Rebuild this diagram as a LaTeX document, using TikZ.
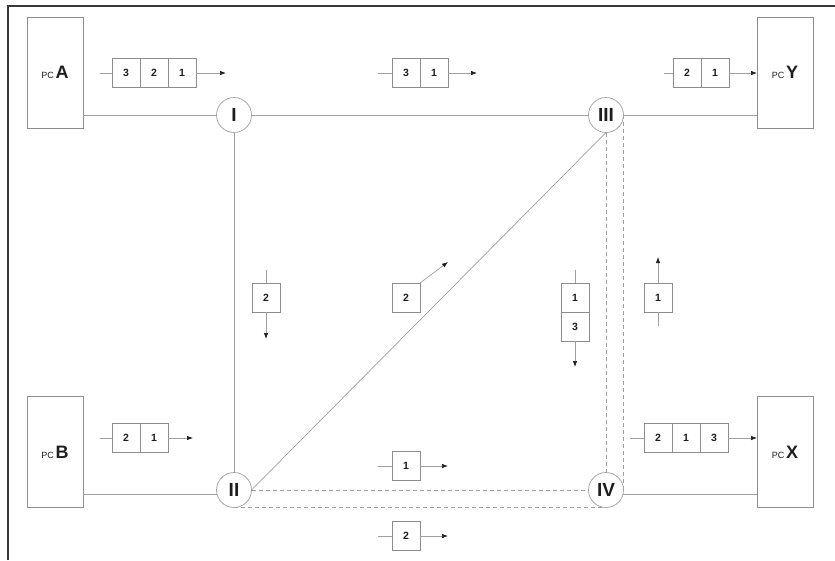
\documentclass[tikz,border=0pt]{standalone}
\usepackage{fontspec}
\setmainfont{Liberation Sans}
\usetikzlibrary{arrows.meta}
\definecolor{boxgray}{HTML}{8C8C8C}
\definecolor{linegray}{HTML}{A0A0A0}
\definecolor{txt}{HTML}{1E1E1E}
\definecolor{framec}{HTML}{383838}
\newcommand\pclabel[1]{{\fontsize{9}{9}\selectfont PC}\,{\fontsize{18}{18}\selectfont\bfseries #1}}
\tikzset{
  cell/.style={draw=boxgray, line width=0.7pt, minimum width=28pt, minimum height=29pt,
    inner sep=0pt, outer sep=0pt, text=txt, font=\fontsize{10.5}{10.5}\selectfont\bfseries},
  pcbox/.style={draw=boxgray, line width=0.7pt, minimum width=56pt, minimum height=111pt,
    inner sep=0pt, outer sep=0pt, text=txt},
  router/.style={circle, draw=linegray, line width=0.7pt, minimum size=35pt, inner sep=0pt,
    outer sep=0pt, text=txt, font=\fontsize{19}{19}\selectfont\bfseries},
  link/.style={draw=linegray, line width=0.7pt},
  dlink/.style={draw=linegray, line width=0.7pt, dash pattern=on 4pt off 3pt},
  pkt/.style={draw=linegray, line width=0.7pt, -{Latex[length=6pt,width=4.5pt,color=txt]}},
  framel/.style={draw=framec, line width=1.3pt}
}
\begin{document}
\begin{tikzpicture}[x=1pt,y=-1pt]
\useasboundingbox (0,0) rectangle (835,560);
% frame
\coordinate (fr1) at (8,560);
\coordinate (fr2) at (8,6);
\coordinate (fr3) at (835,6);
\draw[framel] (fr1) -- (fr2) -- (fr3);

% PCs
\node[pcbox] (pcA) at (55,72.5) {\pclabel{A}};
\node[pcbox] (pcY) at (785,72.5) {\pclabel{Y}};
\node[pcbox] (pcB) at (55,452) {\pclabel{B}};
\node[pcbox] (pcX) at (785,452) {\pclabel{X}};

% routers
\node[router] (rI) at (234,115) {I};
\node[router] (rIII) at (606,115) {III};
\node[router] (rII) at (234,490) {II};
\node[router] (rIV) at (606,490) {IV};

% solid links
\draw[link] (pcA.east |- rI) -- (rI);
\draw[link] (rI) -- (rIII);
\draw[link] (rIII) -- (rIII -| pcY.west);
\draw[link] (rI) -- (rII);
\draw[link] (rII.east) -- (rIII.south);
\draw[link] (pcB.east |- rII.193) -- (rII.193);
\draw[link] (rIV.-13) -- (rIV.-13 -| pcX.west);

% dashed links
\draw[dlink] (rII) -- (rIV);
\draw[dlink] (rII.south) -- (rIV.south);
\draw[dlink] (rIII) -- (rIV);
\draw[dlink] (rIII.east) -- (rIV.east);

% packet A -> 3 2 1
\node[cell] (a3) at (126,73) {3};
\node[cell] (a2) at (154,73) {2};
\node[cell] (a1) at (182,73) {1};
\coordinate (aT) at (100,73);
\coordinate (aH) at (226,73);
\draw[link] (aT) -- (a3);
\draw[pkt] (a1) -- (aH);

% packet top middle 3 1
\node[cell] (m3) at (406,73) {3};
\node[cell] (m1) at (434,73) {1};
\coordinate (mT) at (378,73);
\coordinate (mH) at (477,73);
\draw[link] (mT) -- (m3);
\draw[pkt] (m1) -- (mH);

% packet to Y: 2 1
\node[cell] (y2) at (687,73) {2};
\node[cell] (y1) at (715,73) {1};
\coordinate (yT) at (664,73);
\draw[link] (yT) -- (y2);
\draw[pkt] (y1) -- (y1 -| pcY.west);

% packet B: 2 1
\node[cell] (b2) at (126,438) {2};
\node[cell] (b1) at (154,438) {1};
\coordinate (bT) at (100,438);
\coordinate (bH) at (193,438);
\draw[link] (bT) -- (b2);
\draw[pkt] (b1) -- (bH);

% packet to X: 2 1 3
\node[cell] (x2) at (658,438) {2};
\node[cell] (x1) at (686,438) {1};
\node[cell] (x3) at (714,438) {3};
\coordinate (xT) at (630,438);
\draw[link] (xT) -- (x2);
\draw[pkt] (x3) -- (x3 -| pcX.west);

% bottom packet 1
\node[cell] (l1) at (406,466) {1};
\coordinate (l1T) at (378,466);
\coordinate (l1H) at (448,466);
\draw[link] (l1T) -- (l1);
\draw[pkt] (l1) -- (l1H);

% bottom packet 2
\node[cell] (l2) at (406,536) {2};
\coordinate (l2T) at (378,536);
\coordinate (l2H) at (448,536);
\draw[link] (l2T) -- (l2);
\draw[pkt] (l2) -- (l2H);

% vertical packet 2 (I -> II)
\node[cell] (v2) at (266,297.5) {2};
\coordinate (v2T) at (266,270);
\coordinate (v2H) at (266,339);
\draw[link] (v2T) -- (v2);
\draw[pkt] (v2) -- (v2H);

% diagonal packet 2 (II -> III)
\node[cell] (d2) at (406,297.5) {2};
\coordinate (d2H) at (448,262);
\draw[pkt] (d2.north east) -- (d2H);

% vertical packet 1 3 (III -> IV)
\node[cell] (w1) at (575,297.5) {1};
\node[cell] (w3) at (575,326.5) {3};
\coordinate (wT) at (575,270);
\coordinate (wH) at (575,367);
\draw[link] (wT) -- (w1);
\draw[pkt] (w3) -- (wH);

% upward packet 1 (IV -> III)
\node[cell] (u1) at (658,297.5) {1};
\coordinate (uT) at (658,326);
\coordinate (uH) at (658,257);
\draw[link] (uT) -- (u1);
\draw[pkt] (u1) -- (uH);
\end{tikzpicture}
\end{document}
